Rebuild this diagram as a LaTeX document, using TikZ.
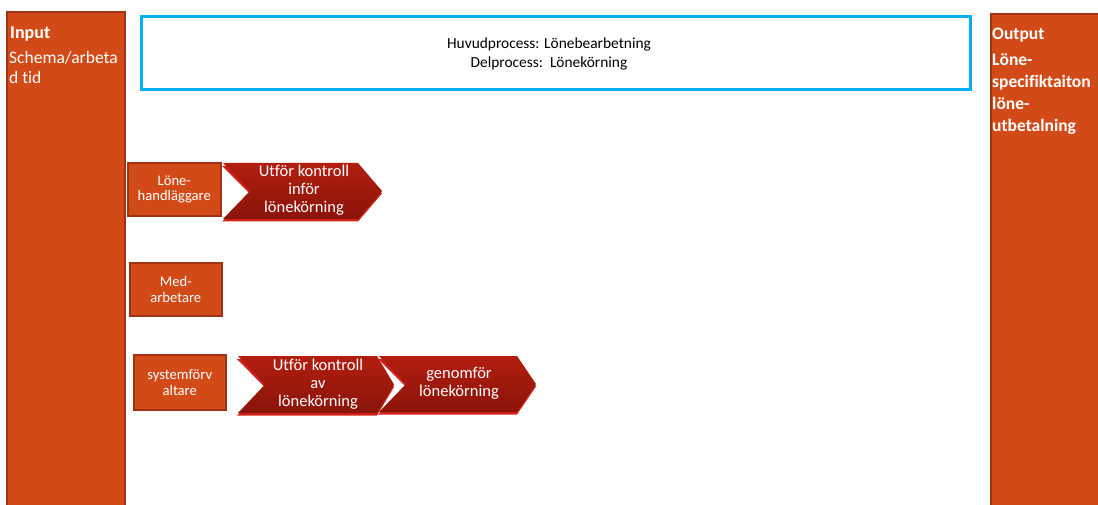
\documentclass[tikz,border=0pt]{standalone}
\usepackage{fontspec}
\setmainfont{Carlito}[Ligatures={NoCommon}]
\definecolor{orangefill}{RGB}{209,74,23}
\definecolor{orangeedge}{RGB}{158,52,20}
\definecolor{skyblue}{RGB}{0,176,240}
\definecolor{chevtop}{RGB}{178,30,16}
\definecolor{chevbot}{RGB}{138,20,10}
\definecolor{chevline}{RGB}{210,32,26}
\tikzset{
  sidebox/.style={fill=orangefill, draw=orangeedge, line width=2pt},
  rolebox/.style={fill=orangefill, draw=orangeedge, line width=1.6pt, text=white, align=center, font=\fontsize{14.6}{15.5}\selectfont, anchor=north west, inner sep=0pt},
  sidetitle/.style={text=white, anchor=base west, inner sep=0pt},
  sidetext/.style={text=white, align=left, anchor=north west, inner sep=0pt},
  chevtext/.style={text=white, align=center, font=\fontsize{16.5}{18}\selectfont, inner sep=0pt},
}
\newcommand{\chevron}[6]{% x1, y1, x2, y2, notch depth, tip depth
  \fill[chevline]
    (#1-1,#2+3) -- (#3-#6,#2+3) -- (#3,{(#2+#4)/2+2.5}) -- (#3-#6,#4+2.5) -- (#1-1,#4+2.5) -- (#1+#5,{(#2+#4)/2+3}) -- cycle;
  \shade[top color=chevtop, bottom color=chevbot]
    (#1,#2) -- (#3-#6,#2) -- (#3,{(#2+#4)/2}) -- (#3-#6,#4) -- (#1,#4) -- (#1+#5,{(#2+#4)/2}) -- cycle;
}
\begin{document}
\begin{tikzpicture}[x=1pt,y=-1pt]
\useasboundingbox (0,0) rectangle (1098,505);
\clip (0,0) rectangle (1098,505);
% side boxes
\path[sidebox] (7,512) -- (7,12) -- (125,12) -- (125,512);
\node[sidetitle, font=\fontsize{18}{20}\selectfont\bfseries] (inputtitle) at (10,39) {Input};
\node[sidetext, font=\fontsize{17.5}{20}\selectfont] (inputtext) at (9,51) {Schema/arbeta\\d tid};
\path[sidebox] (991,512) -- (991,14) -- (1102,14) -- (1102,512);
\node[sidetitle, font=\fontsize{17.5}{20}\selectfont\bfseries] (outputtitle) at (992,40) {Output};
\node[sidetext, font=\fontsize{17.5}{22}\selectfont\bfseries] (outputtext) at (992,53) {Löne-\\specifiktaiton\\löne-\\utbetalning};
% header
\node[draw=skyblue, line width=3pt, minimum width=829pt, minimum height=73pt, anchor=north west, inner sep=0pt] (header) at (140,15) {};
\node[align=center, font=\fontsize{15.4}{19}\selectfont, inner sep=0pt] (headertext) at (549,54) {Huvudprocess: Lönebearbetning\\Delprocess:\ \ Lönekörning};
% role boxes
\node[rolebox, minimum width=93pt, minimum height=53pt] (lone) at (127,162) {Löne-\\handläggare};
\node[rolebox, minimum width=92pt, minimum height=53pt] (med) at (129,262) {Med-\\arbetare};
\node[rolebox, minimum width=92pt, minimum height=55pt] (sys) at (133,354) {systemförv\\altare};
% chevrons
\chevron{223}{163}{382}{219}{27}{24}
\node[chevtext] (c1) at (304,190) {Utför kontroll\\inför\\lönekörning};
\chevron{238}{356}{394}{413}{27}{17}
\node[chevtext] (c2) at (318,384) {Utför kontroll\\av\\lönekörning};
\chevron{379}{356}{536}{412}{27}{19}
\node[chevtext] (c3) at (459,383) {genomför\\lönekörning};
\end{tikzpicture}
\end{document}
